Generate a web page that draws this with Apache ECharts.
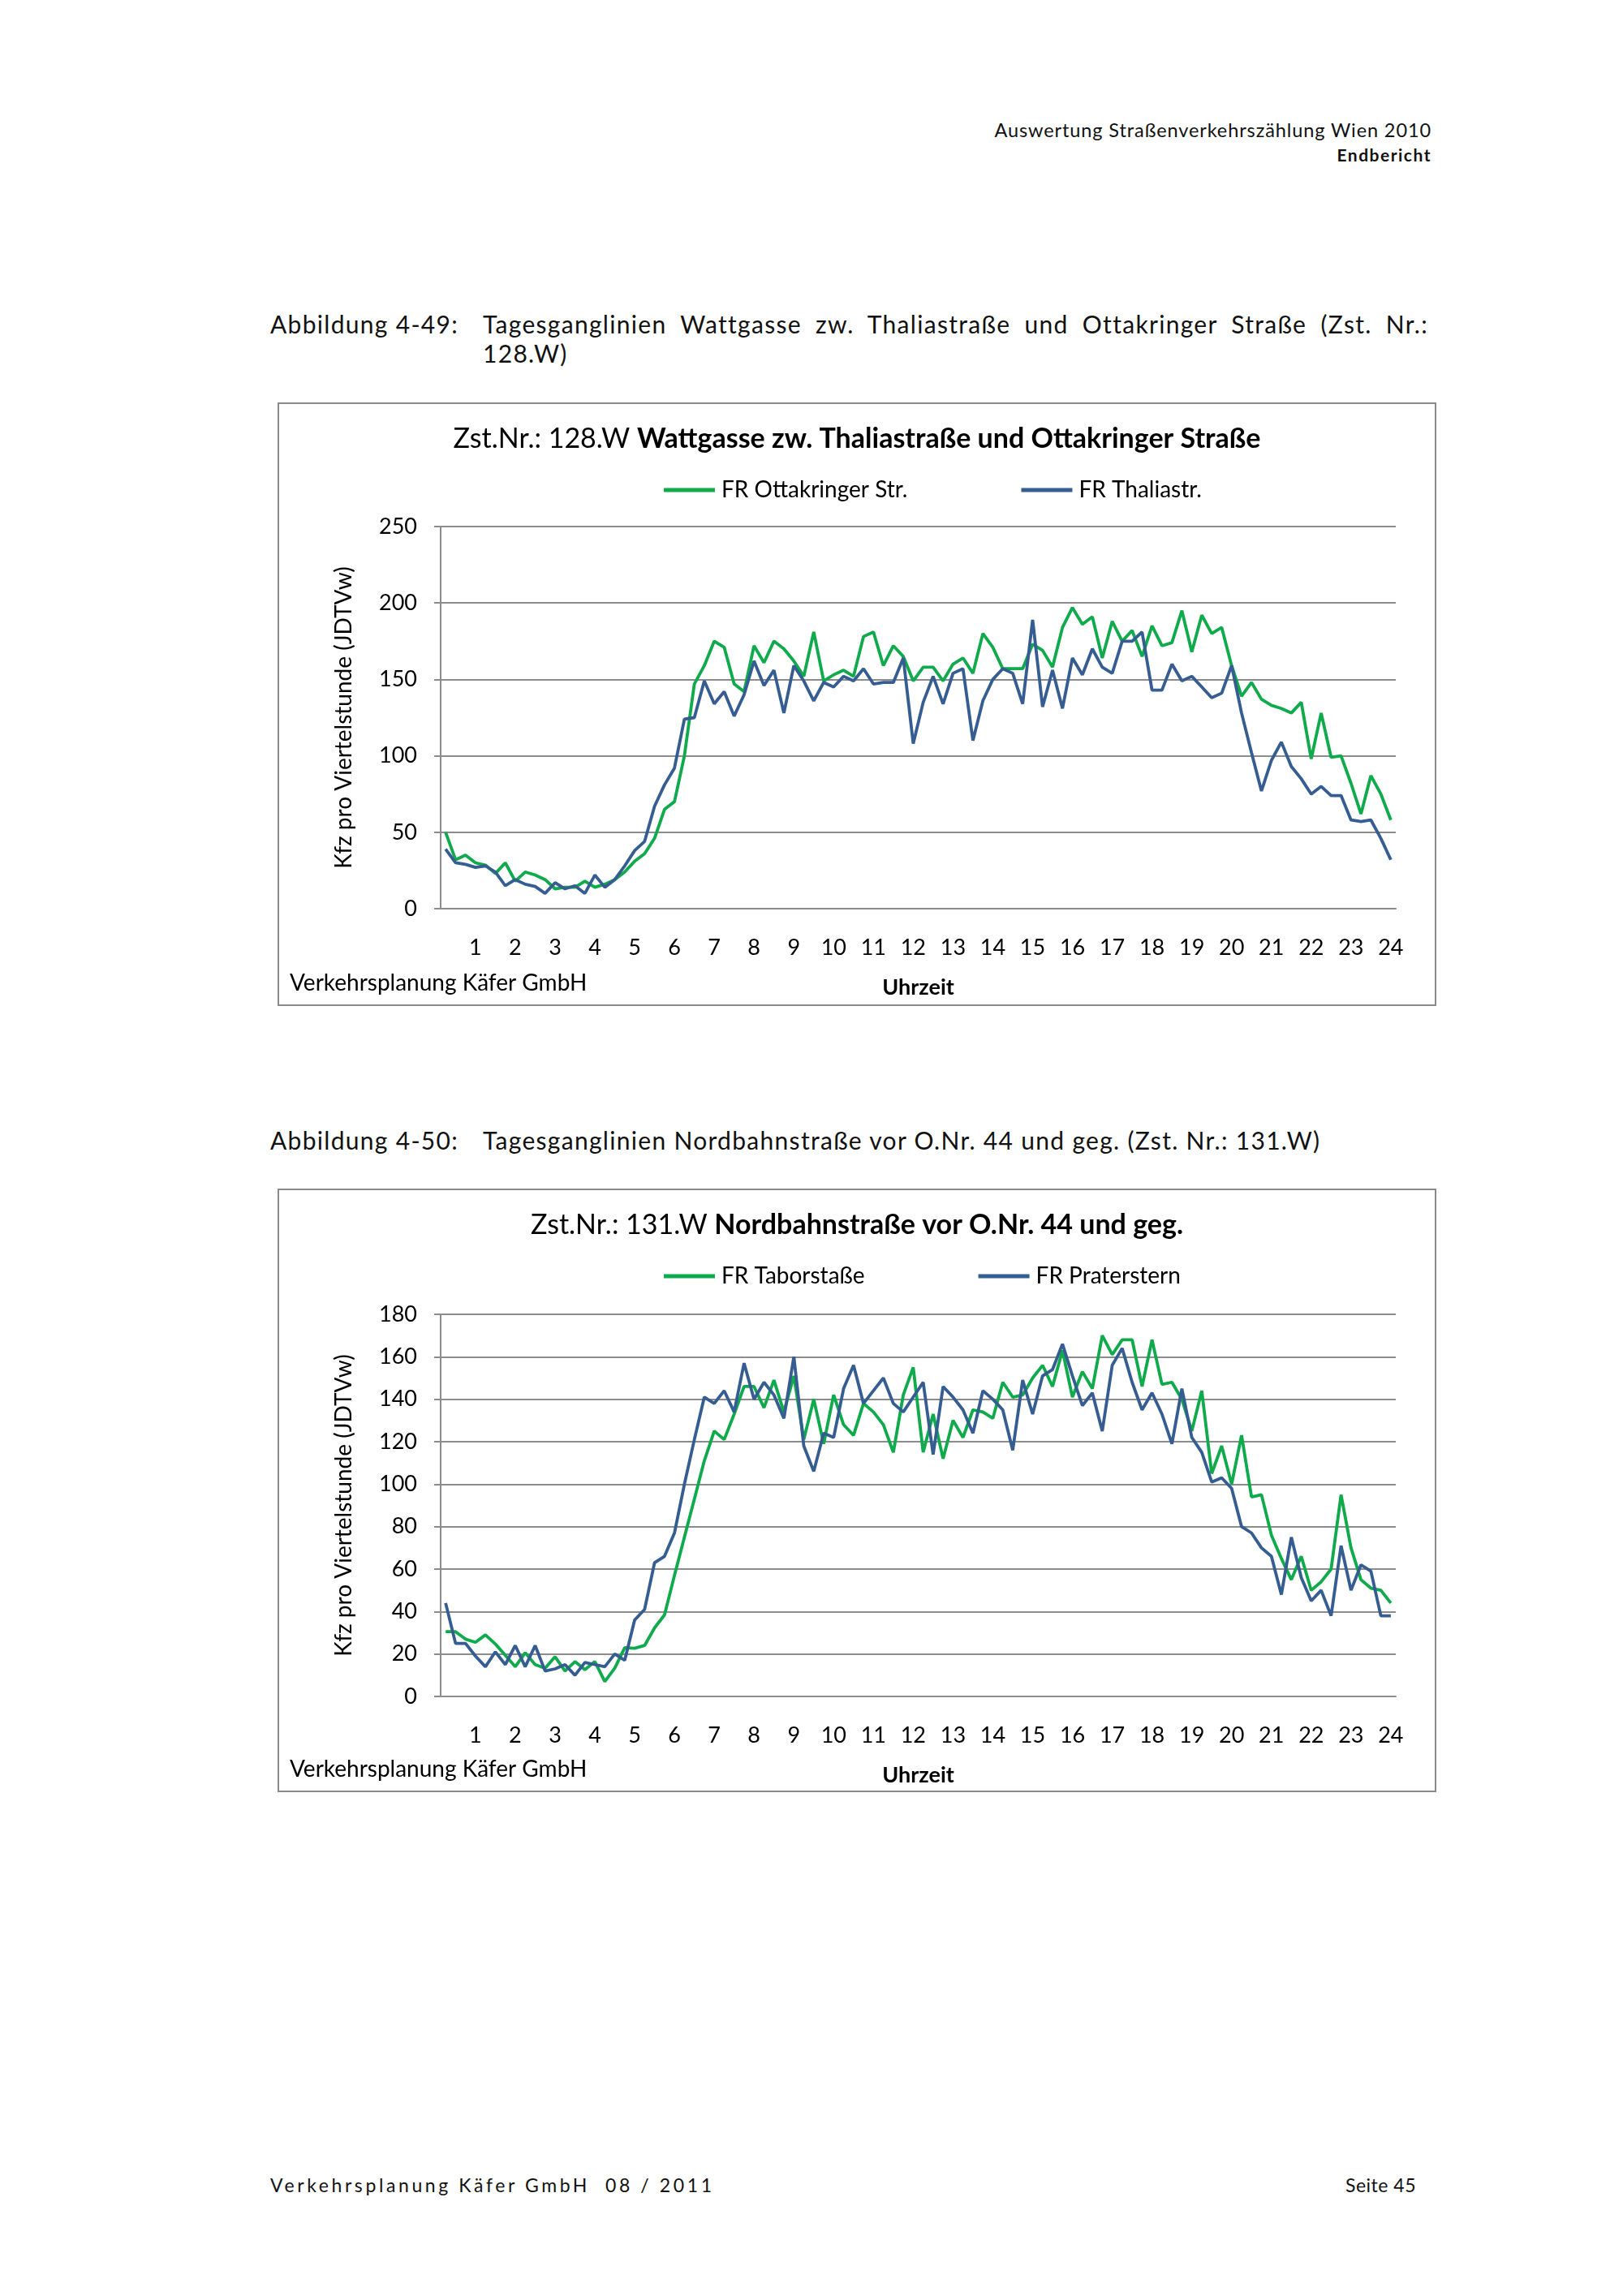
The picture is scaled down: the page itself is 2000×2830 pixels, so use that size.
<!DOCTYPE html>
<html>
<head>
<meta charset="utf-8">
<script src="https://cdn.jsdelivr.net/npm/echarts@6/dist/echarts.min.js"></script>
<style>
  html, body { margin: 0; padding: 0; background: #fff; }
  #page { position: relative; width: 2000px; height: 2830px; background: #fff; overflow: hidden; font-family: Lato, "Open Sans", sans-serif; color: #111; }
  .abs { position: absolute; white-space: nowrap; }
  .hdr1 { right: 236px; top: 146px; font-size: 23.5px; letter-spacing: 0.9px; }
  .hdr2 { right: 236px; top: 178px; font-size: 21px; font-weight: bold; letter-spacing: 1.5px; }
  .cap { font-size: 30px; letter-spacing: 1.3px; }
  .capl { left: 333px; }
  .capt { left: 595px; width: 1165px; text-align: justify; text-align-last: justify; }
  .box { position: absolute; left: 342px; width: 1428px; height: 744px; box-sizing: border-box; border: 2px solid #8a8a8a; }
  .chart { position: absolute; left: 0; top: 0; width: 1424px; height: 740px; }
  .foot { top: 2679px; font-size: 23px; letter-spacing: 3.6px; }
</style>
</head>
<body>
<div id="page">
  <div class="abs hdr1">Auswertung Straßenverkehrszählung Wien 2010</div>
  <div class="abs hdr2">Endbericht</div>

  <div class="abs cap capl" style="top:381px;">Abbildung 4-49:</div>
  <div class="abs cap capt" style="top:381px;">Tagesganglinien Wattgasse zw. Thaliastraße und Ottakringer Straße (Zst. Nr.:</div>
  <div class="abs cap" style="left:595px; top:417px;">128.W)</div>
  <div class="box" style="top:496px;"><div id="c1" class="chart"></div></div>

  <div class="abs cap capl" style="top:1387px;">Abbildung 4-50:</div>
  <div class="abs cap" style="left:595px; top:1387px;">Tagesganglinien Nordbahnstraße vor O.Nr. 44 und geg. (Zst. Nr.: 131.W)</div>
  <div class="box" style="top:1465px;"><div id="c2" class="chart"></div></div>

  <div class="abs foot" style="left:333px;">Verkehrsplanung Käfer GmbH&nbsp;&nbsp;08 / 2011</div>
  <div class="abs foot" style="right:255px; letter-spacing:0.5px;">Seite 45</div>
</div>
<script>
// ---- data ----
const hourLabels = ['1','2','3','4','5','6','7','8','9','10','11','12','13','14','15','16','17','18','19','20','21','22','23','24'];

// Chart 1: Zst.Nr. 128.W Wattgasse
const title1Prefix = 'Zst.Nr.: 128.W ';
const title1Main = 'Wattgasse zw. Thaliastraße und Ottakringer Straße';
const series1Names = ['FR Ottakringer Str.', 'FR Thaliastr.'];
const ottakringer = [50,32,35,30,28.5,23,30,18,24,22,19,13,14,14,18,14,16,19,24,31,36,46,65,70,
  100,147,159,175,171,147,142,172,161,175,170,162,152,181,149,153,156,152,178,181,159,172,165,149,158,
  158,149,160,164,154,180,171,157,157,157,173,169,158,184,197,186,191,164,188,175,182,165,185,172,
  174,195,168,192,180,184,159,139,148,137,133,131,128,135,98,128,99,100,82,62,87,75,58];
const thaliastr = [39,30,29,27,28,24,15,19,16,14.5,10,17,13,15,10,22,14,19,28,38,44,67,81,92,
  124,125,149,134,142,126,140,162,146,156,128,159,149,136,148,145,152,149,157,147,148,148,164,108,135,
  152,134,154,157,110,136,150,157,154,134,189,132,156,131,164,153,170,158,154,175,175,181,143,143,
  160,149,152,145,138,141,159,128,102,77,97,109,93,85,75,80,74,74,58,57,58,46,32];
const y1Max = 250, y1Step = 50;

// Chart 2: Zst.Nr. 131.W Nordbahnstraße
const title2Prefix = 'Zst.Nr.: 131.W ';
const title2Main = 'Nordbahnstraße vor O.Nr. 44 und geg.';
const series2Names = ['FR Taborstaße', 'FR Praterstern'];
const taborstrasse = [30.5,30.5,27,25.5,29,24.7,19.4,14,20.6,15,13.3,18.7,12,16.4,12.6,16.4,7,13.3,23,22.7,24,32.3,38.4,
  57,75,93,111,125,121,133,146,146,136,149,134,151,121,140,119,142,128,123,138,134,128,115,
  142,155,115,133,112,130,122,135,134,131,148,141,142,150,156,146,163,141,153,145,170,161,168,168,
  146,168,147,148,140,125,144,105,118,100,123,94,95,76,65,55,66,50,54,60,95,70,55,51,50,44];
const praterstern = [44,25,25,19,14,21,15,24,14,24,12,13,15,10,16,15,14,20,17,36,41,63,66,77,
  100,121,141,138,144,134,157,140,148,142,131,160,118,106,124,122,145,156,138,144,150,138,134,141,148,
  114,146,141,135,124,144,140,135,116,149,133,151,154,166,151,137,143,125,156,164,148,135,143,133,
  119,145,122,115,101,103,98,80,77,70,66,48,75,56,45,50,38,71,50,62,59,38,38];
const y2Max = 180, y2Step = 20;

const yAxisName = 'Kfz pro Viertelstunde (JDTVw)';
const xAxisName = 'Uhrzeit';
const sourceText = 'Verkehrsplanung Käfer GmbH';

// ---- build ----
const GREEN = '#0FAA4B', BLUE = '#355D92', GRID = '#8C8C8C';
const FONT = 'Lato, "Open Sans", sans-serif';
// 96 quarter-hour categories; the hour label sits on the last quarter of each hour
const quarters = [];
hourLabels.forEach(h => { quarters.push('', '', '', h); });

function makeOption(prefix, main, names, a, b, yMax, yStep, gridTop) {
  return {
    animation: false,
    title: {
      text: '{p|' + prefix + '}{m|' + main + '}',
      left: 'center', top: 21,
      textStyle: { fontWeight: 'normal', rich: {
        p: { fontFamily: FONT, fontSize: 34, fontWeight: 'normal', color: '#000' },
        m: { fontFamily: FONT, fontSize: 34, fontWeight: 'bold', color: '#000' }
      } }
    },
    legend: {
      data: names, left: 469, top: 87, itemWidth: 63, itemHeight: 5, itemGap: 140,
      icon: 'rect',
      textStyle: { fontFamily: FONT, fontSize: 28, color: '#000', padding: [0, 0, 0, 3] }
    },
    graphic: [{
      type: 'text', left: 13, top: 700,
      style: { text: sourceText, fontFamily: FONT, fontSize: 28, fill: '#000' }
    }],
    grid: { left: 199, right: 48, top: gridTop, bottom: 740 - gridTop - 471 },
    xAxis: {
      type: 'category', data: quarters, boundaryGap: true,
      name: xAxisName, nameLocation: 'middle', nameGap: 84,
      nameTextStyle: { fontFamily: FONT, fontSize: 27, fontWeight: 'bold', color: '#000' },
      axisLine: { lineStyle: { color: GRID, width: 2 } },
      axisTick: { interval: 0, length: 8, lineStyle: { color: GRID, width: 2 } },
      axisLabel: { interval: 0, margin: 35, fontFamily: FONT, fontSize: 27, color: '#000' }
    },
    yAxis: {
      type: 'value', min: 0, max: yMax, interval: yStep,
      name: yAxisName, nameLocation: 'middle', nameGap: 105, nameRotate: 90,
      nameTextStyle: { fontFamily: FONT, fontSize: 28, color: '#000' },
      axisLine: { show: true, lineStyle: { color: GRID, width: 2 } },
      axisTick: { show: true, length: 8, lineStyle: { color: GRID, width: 2 } },
      axisLabel: { margin: 29, fontFamily: FONT, fontSize: 27, color: '#000' },
      splitLine: { lineStyle: { color: GRID, width: 2 } }
    },
    series: [
      { name: names[0], type: 'line', data: a, symbol: 'none', color: GREEN, lineStyle: { width: 3.8, color: GREEN } },
      { name: names[1], type: 'line', data: b, symbol: 'none', color: BLUE, lineStyle: { width: 3.8, color: BLUE } }
    ]
  };
}

const c1 = echarts.init(document.getElementById('c1'));
c1.setOption(makeOption(title1Prefix, title1Main, series1Names, ottakringer, thaliastr, y1Max, y1Step, 151));
const c2 = echarts.init(document.getElementById('c2'));
c2.setOption(makeOption(title2Prefix, title2Main, series2Names, taborstrasse, praterstern, y2Max, y2Step, 153));
</script>
</body>
</html>
